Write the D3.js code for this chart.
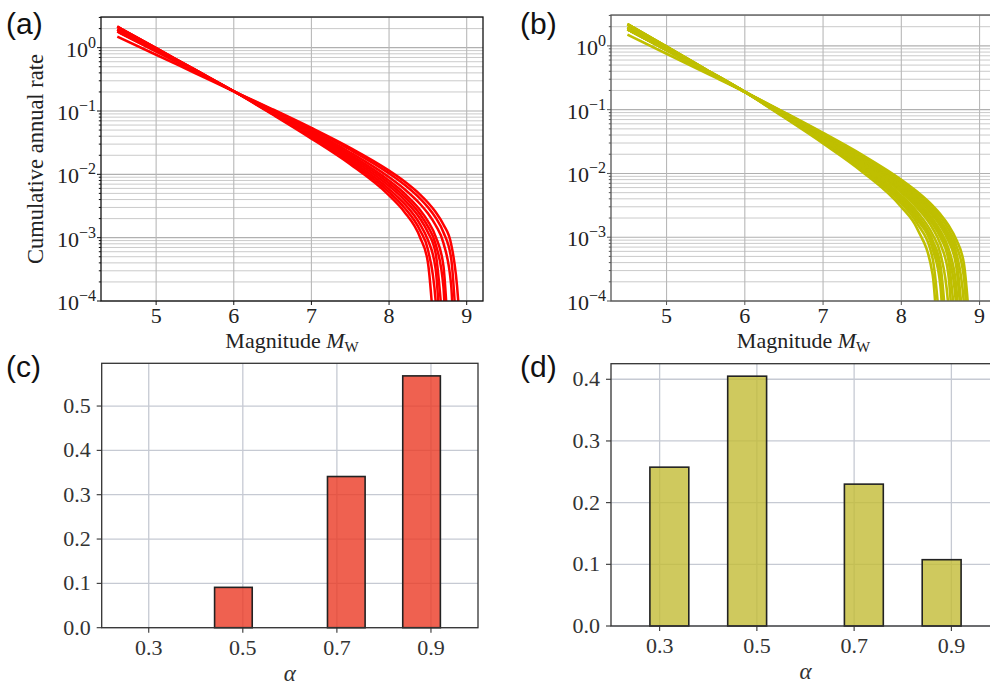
<!DOCTYPE html>
<html>
<head>
<meta charset="utf-8">
<script src="https://cdn.jsdelivr.net/npm/d3@7"></script>
<style>
  body { margin: 0; background: #fff; }
  svg { display: block; }
</style>
</head>
<body>
<div id="chart"></div>
<script>
// magnitude grid shared by every rate curve
var MAG = [4.5, 5, 5.5, 6, 6.5, 7, 7.5, 8, 8.2, 8.4, 8.5, 8.6, 8.7, 8.8, 8.9];

// (a) cumulative annual rates, one row per curve (null = past the curve's end)
var ratesA = [
    [2.15, 0.982, 0.449, 0.205, 0.0879, 0.0367, 0.01441, 0.00466, 0.00253, 0.001004, 0.00041, null, null, null, null],
    [2.15, 0.982, 0.449, 0.205, 0.0899, 0.0385, 0.01549, 0.00523, 0.00295, 0.0013, 0.00065, 0.0001, null, null, null],
    [2.15, 0.982, 0.449, 0.205, 0.0919, 0.0403, 0.01665, 0.00585, 0.00341, 0.00162, 0.00092, 0.000319, null, null, null],
    [1.95, 0.92, 0.434, 0.205, 0.094, 0.0422, 0.01788, 0.00653, 0.00392, 0.00199, 0.00122, 0.000565, null, null, null],
    [1.95, 0.92, 0.434, 0.205, 0.0961, 0.0441, 0.01914, 0.00722, 0.00442, 0.00234, 0.00151, 0.00079, 0.000169, null, null],
    [1.95, 0.92, 0.434, 0.205, 0.0983, 0.0461, 0.0205, 0.00796, 0.00498, 0.00273, 0.00183, 0.00104, 0.000362, null, null],
    [1.8, 0.872, 0.423, 0.205, 0.1007, 0.0484, 0.02215, 0.00901, 0.00582, 0.0034, 0.00242, 0.00157, 0.000826, 0.000178, null],
    [1.8, 0.872, 0.423, 0.205, 0.104, 0.0517, 0.02445, 0.01035, 0.00684, 0.00414, 0.00304, 0.00207, 0.00122, 0.000468, null],
    [1.5, 0.773, 0.398, 0.205, 0.1064, 0.054, 0.02618, 0.01143, 0.00769, 0.00479, 0.00359, 0.00254, 0.00161, 0.000789, 0.0000673]
];
var mmaxA = [8.58, 8.62, 8.66, 8.70, 8.73, 8.76, 8.83, 8.87, 8.91];

// (b)
var ratesB = [
    [2.2, 0.973, 0.43, 0.19, 0.076, 0.0296, 0.01068, 0.00298, 0.00138, 0.000263, null, null, null, null, null],
    [2.2, 0.973, 0.43, 0.19, 0.0778, 0.031, 0.01152, 0.00339, 0.00167, 0.000464, null, null, null, null, null],
    [2.2, 0.973, 0.43, 0.19, 0.0787, 0.0318, 0.01203, 0.00369, 0.00191, 0.000654, 0.000171, null, null, null, null],
    [2.2, 0.973, 0.43, 0.19, 0.0796, 0.0326, 0.01248, 0.00392, 0.00208, 0.00077, 0.000266, null, null, null, null],
    [1.95, 0.898, 0.413, 0.19, 0.0805, 0.0333, 0.01295, 0.00416, 0.00225, 0.000889, 0.000362, null, null, null, null],
    [1.95, 0.898, 0.413, 0.19, 0.0815, 0.0342, 0.01351, 0.00449, 0.00252, 0.0011, 0.00055, 0.0000847, null, null, null],
    [1.95, 0.898, 0.413, 0.19, 0.0834, 0.0358, 0.01452, 0.00502, 0.00291, 0.00138, 0.000778, 0.00027, null, null, null],
    [1.95, 0.898, 0.413, 0.19, 0.0844, 0.0367, 0.01513, 0.00539, 0.0032, 0.00161, 0.000988, 0.000455, null, null, null],
    [1.95, 0.898, 0.413, 0.19, 0.0854, 0.0375, 0.01569, 0.00569, 0.00343, 0.00177, 0.00112, 0.000563, 0.0000867, null, null],
    [1.82, 0.857, 0.404, 0.19, 0.0863, 0.0384, 0.01625, 0.006, 0.00366, 0.00194, 0.00126, 0.000679, 0.000179, null, null],
    [1.82, 0.857, 0.404, 0.19, 0.0874, 0.0394, 0.01691, 0.00641, 0.00399, 0.0022, 0.0015, 0.000887, 0.000364, null, null],
    [1.82, 0.857, 0.404, 0.19, 0.0884, 0.0403, 0.01752, 0.00675, 0.00425, 0.00239, 0.00165, 0.00102, 0.000471, null, null],
    [1.82, 0.857, 0.404, 0.19, 0.0893, 0.0412, 0.01812, 0.0071, 0.00452, 0.00259, 0.00182, 0.00116, 0.000587, 0.0000907, null],
    [1.82, 0.857, 0.404, 0.19, 0.0904, 0.0422, 0.01883, 0.00752, 0.00485, 0.00285, 0.00205, 0.00135, 0.000753, 0.000234, null],
    [1.5, 0.754, 0.378, 0.19, 0.0915, 0.0432, 0.01953, 0.00795, 0.00519, 0.00312, 0.00228, 0.00156, 0.000927, 0.000384, null]
];
var mmaxB = [8.46, 8.50, 8.54, 8.56, 8.58, 8.62, 8.66, 8.70, 8.72, 8.74, 8.78, 8.80, 8.82, 8.85, 8.88];

// rate value used where a curve drops off at its maximum magnitude
var TAIL_RATE = 3e-5;

var MAG_DOMAIN = [4.29, 9.21];
var RATE_DOMAIN = [1e-4, 3.05];
var MAG_TICKS = [5, 6, 7, 8, 9];

// (c), (d) histograms over alpha
var ALPHA = [0.3, 0.5, 0.7, 0.9];
var BIN_EDGES = [0.2, 0.28, 0.36, 0.44, 0.52, 0.6, 0.68, 0.76, 0.84, 0.92, 1.0];
var freqC = [0, 0.091, 0.341, 0.568];
var freqD = [0.2575, 0.405, 0.23, 0.1075];
var yTicksC = [0, 0.1, 0.2, 0.3, 0.4, 0.5];
var yTicksD = [0, 0.1, 0.2, 0.3, 0.4];

var SERIF = "'Liberation Serif', 'DejaVu Serif', serif";
var SANS = "'Liberation Sans', Arial, sans-serif";

var svg = d3.select("#chart").append("svg")
    .attr("width", 990)
    .attr("height", 687);

var clipCount = 0;

function panelLetter(txt, x, y) {
    svg.append("text")
        .attr("x", x).attr("y", y)
        .style("font-family", SANS)
        .style("font-size", "30px")
        .attr("fill", "#111")
        .text(txt);
}

function createRatePanel(box, rates, mmax, color, spineColor, lineWidth, withYLabel) {

    var x = d3.scaleLinear().domain(MAG_DOMAIN).range([box.left, box.right]),
        y = d3.scaleLog().domain(RATE_DOMAIN).range([box.bottom, box.top]),
        g = svg.append("g"),
        clipId = "clip" + (clipCount++);

    g.append("clipPath").attr("id", clipId).append("rect")
        .attr("x", box.left).attr("y", box.top)
        .attr("width", box.right - box.left)
        .attr("height", box.bottom - box.top);

    var yTicks = y.ticks(),
        isMajor = function (v) {
            return Math.abs(Math.log10(v) - Math.round(Math.log10(v))) < 1e-6;
        };

    // grid
    g.selectAll("line.hgrid")
        .data(yTicks)
        .enter().append("line")
        .attr("x1", box.left).attr("x2", box.right)
        .attr("y1", function (d) { return y(d); })
        .attr("y2", function (d) { return y(d); })
        .attr("stroke", function (d) { return isMajor(d) ? "#b0b0b0" : "#c4c4c4"; })
        .attr("stroke-width", function (d) { return isMajor(d) ? 1.1 : 0.9; });

    g.selectAll("line.vgrid")
        .data(MAG_TICKS)
        .enter().append("line")
        .attr("x1", function (d) { return x(d); })
        .attr("x2", function (d) { return x(d); })
        .attr("y1", box.top).attr("y2", box.bottom)
        .attr("stroke", "#b8b8b8")
        .attr("stroke-width", 1.1);

    // curves
    var line = d3.line()
        .x(function (d) { return x(d[0]); })
        .y(function (d) { return y(d[1]); })
        .curve(d3.curveMonotoneX);

    var curves = rates.map(function (row, i) {
        var pts = [];
        row.forEach(function (v, j) {
            if (v !== null) pts.push([MAG[j], v]);
        });
        pts.push([mmax[i], TAIL_RATE]);
        return pts;
    });

    g.append("g")
        .attr("clip-path", "url(#" + clipId + ")")
        .selectAll("path")
        .data(curves)
        .enter().append("path")
        .attr("d", line)
        .attr("fill", "none")
        .attr("stroke", color)
        .attr("stroke-width", lineWidth);

    // frame
    g.append("rect")
        .attr("x", box.left).attr("y", box.top)
        .attr("width", box.right - box.left)
        .attr("height", box.bottom - box.top)
        .attr("fill", "none")
        .attr("stroke", spineColor)
        .attr("stroke-width", 1.3);

    // y ticks
    g.selectAll("line.ytick")
        .data(yTicks)
        .enter().append("line")
        .attr("x1", function (d) { return box.left - (isMajor(d) ? 4 : 2.2); })
        .attr("x2", box.left)
        .attr("y1", function (d) { return y(d); })
        .attr("y2", function (d) { return y(d); })
        .attr("stroke", spineColor)
        .attr("stroke-width", 1);

    var labels = g.selectAll("text.ylab")
        .data(yTicks.filter(isMajor))
        .enter().append("text")
        .attr("x", box.left - 5)
        .attr("y", function (d) { return y(d) + 9; })
        .attr("text-anchor", "end")
        .style("font-family", SERIF)
        .style("font-size", "22px")
        .attr("fill", "#222");
    labels.append("tspan").text("10");
    labels.append("tspan")
        .attr("dy", -9)
        .style("font-size", "16px")
        .text(function (d) {
            var k = Math.round(Math.log10(d));
            return k < 0 ? "\u2212" + (-k) : String(k);
        });

    // x ticks
    g.selectAll("line.xtick")
        .data(MAG_TICKS)
        .enter().append("line")
        .attr("x1", function (d) { return x(d); })
        .attr("x2", function (d) { return x(d); })
        .attr("y1", box.bottom).attr("y2", box.bottom + 4)
        .attr("stroke", spineColor)
        .attr("stroke-width", 1);

    g.selectAll("text.xlab")
        .data(MAG_TICKS)
        .enter().append("text")
        .attr("x", function (d) { return x(d); })
        .attr("y", box.bottom + 22)
        .attr("text-anchor", "middle")
        .style("font-family", SERIF)
        .style("font-size", "22px")
        .attr("fill", "#222")
        .text(function (d) { return d; });

    var xl = g.append("text")
        .attr("x", (box.left + box.right) / 2)
        .attr("y", box.bottom + 47)
        .attr("text-anchor", "middle")
        .style("font-family", SERIF)
        .style("font-size", "22px")
        .attr("fill", "#222");
    xl.append("tspan").text("Magnitude ");
    xl.append("tspan").style("font-style", "italic").text("M");
    xl.append("tspan").attr("dy", 4).style("font-size", "15px").text("W");

    if (withYLabel) {
        g.append("text")
            .attr("transform", "translate(43," + ((box.top + box.bottom) / 2) + ") rotate(-90)")
            .attr("text-anchor", "middle")
            .style("font-family", SERIF)
            .style("font-size", "22.5px")
            .attr("fill", "#222")
            .text("Cumulative annual rate");
    }
}

function createBarPanel(box, freq, yTicks, fill) {

    var x = d3.scaleLinear().domain([BIN_EDGES[0], BIN_EDGES[BIN_EDGES.length - 1]]).range([box.left, box.right]),
        y = d3.scaleLinear().domain([0, d3.max(freq) * 1.05]).range([box.bottom, box.top]),
        g = svg.append("g");

    // grid
    g.selectAll("line.hgrid")
        .data(yTicks)
        .enter().append("line")
        .attr("x1", box.left).attr("x2", box.right)
        .attr("y1", function (d) { return y(d); })
        .attr("y2", function (d) { return y(d); })
        .attr("stroke", "#c6cad3")
        .attr("stroke-width", 1.3);

    g.selectAll("line.vgrid")
        .data(ALPHA)
        .enter().append("line")
        .attr("x1", function (d) { return x(d); })
        .attr("x2", function (d) { return x(d); })
        .attr("y1", box.top).attr("y2", box.bottom)
        .attr("stroke", "#c6cad3")
        .attr("stroke-width", 1.3);

    // bars: each alpha falls in one histogram bin
    var bars = ALPHA.map(function (a, i) {
        var b = d3.bisectRight(BIN_EDGES, a) - 1;
        return { x0: BIN_EDGES[b], x1: BIN_EDGES[b + 1], v: freq[i] };
    });

    g.selectAll("rect.bar")
        .data(bars)
        .enter().append("rect")
        .attr("x", function (d) { return x(d.x0); })
        .attr("width", function (d) { return x(d.x1) - x(d.x0); })
        .attr("y", function (d) { return y(d.v); })
        .attr("height", function (d) { return y(0) - y(d.v); })
        .attr("fill", fill)
        .attr("fill-opacity", 0.8)
        .attr("stroke", "#222")
        .attr("stroke-width", 1.6);

    // frame
    g.append("rect")
        .attr("x", box.left).attr("y", box.top)
        .attr("width", box.right - box.left)
        .attr("height", box.bottom - box.top)
        .attr("fill", "none")
        .attr("stroke", "#333")
        .attr("stroke-width", 1.3);

    g.selectAll("line.ytick")
        .data(yTicks)
        .enter().append("line")
        .attr("x1", box.left - 5).attr("x2", box.left)
        .attr("y1", function (d) { return y(d); })
        .attr("y2", function (d) { return y(d); })
        .attr("stroke", "#333")
        .attr("stroke-width", 1.1);

    g.selectAll("text.ylab")
        .data(yTicks)
        .enter().append("text")
        .attr("x", box.left - 11)
        .attr("y", function (d) { return y(d) + 7; })
        .attr("text-anchor", "end")
        .style("font-family", SERIF)
        .style("font-size", "22px")
        .attr("fill", "#333")
        .text(function (d) { return d.toFixed(1); });

    g.selectAll("line.xtick")
        .data(ALPHA)
        .enter().append("line")
        .attr("x1", function (d) { return x(d); })
        .attr("x2", function (d) { return x(d); })
        .attr("y1", box.bottom).attr("y2", box.bottom + 5)
        .attr("stroke", "#333")
        .attr("stroke-width", 1.1);

    g.selectAll("text.xlab")
        .data(ALPHA)
        .enter().append("text")
        .attr("x", function (d) { return x(d); })
        .attr("y", box.bottom + 27)
        .attr("text-anchor", "middle")
        .style("font-family", SERIF)
        .style("font-size", "22px")
        .attr("fill", "#333")
        .text(function (d) { return d.toFixed(1); });

    g.append("text")
        .attr("x", (box.left + box.right) / 2)
        .attr("y", box.bottom + 53)
        .attr("text-anchor", "middle")
        .style("font-family", SERIF)
        .style("font-style", "italic")
        .style("font-size", "23px")
        .attr("fill", "#333")
        .text("\u03b1");
}

/* Render the four panels */

createRatePanel({ left: 101, right: 483, top: 17, bottom: 301 }, ratesA, mmaxA, "#ff0000", "#111", 2.5, true);
createRatePanel({ left: 611, right: 996, top: 15, bottom: 301 }, ratesB, mmaxB, "#bfbf00", "#555", 2.6, false);
createBarPanel({ left: 101.7, right: 478, top: 363.3, bottom: 627.7 }, freqC, yTicksC, "#eb3924");
createBarPanel({ left: 611, right: 1000, top: 363.7, bottom: 626 }, freqD, yTicksD, "#c3bc36");

panelLetter("(a)", 6, 34);
panelLetter("(b)", 520, 34);
panelLetter("(c)", 6, 377);
panelLetter("(d)", 520, 377);
</script>
</body>
</html>
